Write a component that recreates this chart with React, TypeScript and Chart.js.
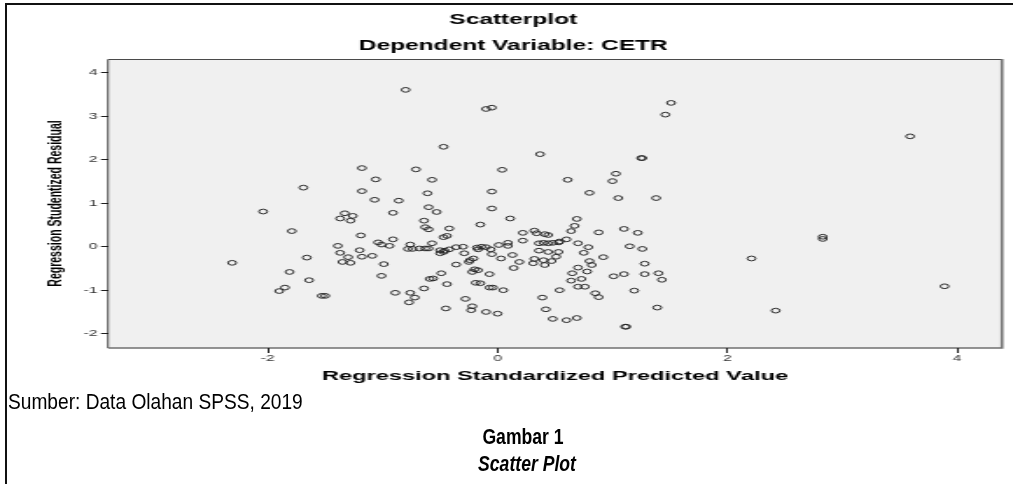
import { useEffect, useRef } from 'react';
import { Chart, registerables } from 'chart.js';

Chart.register(...registerables);

// ---- DATA ----
const chartTitle = 'Scatterplot';
const chartSubtitle = 'Dependent Variable: CETR';
const xAxisTitle = 'Regression Standardized Predicted Value';
const yAxisTitle = 'Regression Studentized Residual';
const xTickValues = [-2, 0, 2, 4];
const yTickValues = [-2, -1, 0, 1, 2, 3, 4];
const xRange = [-3.39, 4.39];
const yRange = [-2.33, 4.32];

// [standardized predicted value, studentized residual]
const leftPoints: number[][] = [
  [-2.31, -0.37], [-2.04, 0.81], [-1.79, 0.36], [-1.66, -0.25], [-1.81, -0.58],
  [-1.64, -0.77], [-1.85, -0.94], [-1.9, -1.02], [-1.53, -1.13], [-1.5, -1.13],
  [-1.69, 1.36], [-1.39, 0.02], [-1.37, -0.14], [-1.3, -0.24], [-1.35, -0.35],
  [-1.28, -0.37], [-1.33, 0.77], [-1.26, 0.71], [-1.37, 0.65], [-1.28, 0.6],
  [-1.19, 0.26], [-1.2, -0.08], [-1.18, -0.23], [-1.09, -0.21],
];
const upperPoints: number[][] = [
  [-0.8, 3.61], [-0.1, 3.17], [-0.05, 3.2], [1.51, 3.31], [1.46, 3.04],
  [-0.47, 2.3], [0.37, 2.13], [1.25, 2.04], [1.26, 2.04], [-1.18, 1.81],
  [-0.71, 1.78], [0.04, 1.77], [-1.06, 1.55], [-0.57, 1.54], [0.61, 1.54],
  [1.03, 1.68], [1.0, 1.51], [-1.18, 1.28], [-0.61, 1.23], [-0.05, 1.27],
  [0.8, 1.24], [-1.07, 1.08], [-0.86, 1.06], [1.05, 1.12], [1.38, 1.12],
  [-0.6, 0.91], [-0.05, 0.88],
];
const rightPoints: number[][] = [
  [3.59, 2.54], [2.83, 0.23], [2.83, 0.18], [2.21, -0.27], [3.89, -0.91],
  [2.42, -1.47], [1.43, -0.76], [1.4, -0.61], [1.39, -1.4], [1.28, -0.63],
  [1.28, -0.39], [1.26, -0.05], [1.15, 0.01], [1.22, 0.32], [1.1, 0.41],
  [1.1, -0.63], [1.01, -0.68], [1.19, -1.01], [1.11, -1.84], [1.12, -1.84],
];
const centerUpperPoints: number[][] = [
  [-0.91, 0.78], [-0.53, 0.8], [0.11, 0.65], [-0.64, 0.6], [-0.15, 0.51],
  [0.69, 0.64], [0.67, 0.48], [0.64, 0.36], [0.88, 0.33], [-0.63, 0.45],
  [-0.6, 0.4], [-0.42, 0.42], [-0.91, 0.17], [-0.47, 0.22], [-0.44, 0.25],
  [0.22, 0.32], [0.32, 0.37], [0.34, 0.31], [0.41, 0.29], [0.44, 0.27],
  [0.22, 0.14], [0.6, 0.17], [0.53, 0.1], [0.7, 0.08], [0.36, 0.08],
  [0.4, 0.09], [0.44, 0.08], [0.48, 0.09], [0.54, 0.12], [0.09, 0.09],
  [0.09, 0.02], [0.01, 0.04], [-0.57, 0.08], [-0.76, 0.05], [-1.04, 0.1],
  [-1.01, 0.05], [-0.94, 0.02],
];
const centerLowerPoints: number[][] = [
  [0.79, -0.01], [0.92, -0.24], [0.75, -0.14], [0.8, -0.33], [0.82, -0.42],
  [0.7, -0.48], [0.65, -0.61], [0.78, -0.57], [0.73, -0.74], [0.64, -0.78],
  [0.7, -0.92], [0.76, -0.92], [0.85, -1.07], [0.88, -1.16], [0.54, -1.0],
  [0.39, -1.17], [0.42, -1.44], [0.48, -1.66], [0.6, -1.69], [0.69, -1.64],
  [0.36, -0.09], [0.44, -0.12], [0.53, -0.12], [0.51, -0.23], [0.47, -0.33],
  [0.4, -0.31], [0.32, -0.28], [0.31, -0.38], [0.41, -0.42], [0.13, -0.19],
  [0.19, -0.35], [0.14, -0.49], [0.03, -0.27], [-0.05, -0.17], [-0.06, -0.06],
  [-0.1, -0.01], [-0.14, 0.0], [-0.18, -0.02], [-0.17, -0.06], [-0.3, 0.0],
  [-0.29, -0.15], [-0.36, -0.01], [-0.42, -0.06], [-0.46, -0.09], [-0.5, -0.08],
  [-0.5, -0.15], [-0.47, -0.12], [-0.6, -0.04], [-0.63, -0.04], [-0.68, -0.04],
  [-0.78, -0.05], [-0.74, -0.05], [-0.99, -0.4], [-1.01, -0.67], [-0.36, -0.41],
  [-0.24, -0.31], [-0.21, -0.27], [-0.25, -0.35], [-0.2, -0.52], [-0.17, -0.54],
  [-0.22, -0.58], [-0.07, -0.63], [-0.49, -0.61], [-0.59, -0.74], [-0.56, -0.73],
  [-0.44, -0.86], [-0.19, -0.83], [-0.15, -0.84], [-0.07, -0.94], [-0.04, -0.94],
  [0.05, -1.0], [-0.64, -0.96], [-0.89, -1.06], [-0.76, -1.06], [-0.72, -1.17],
  [-0.77, -1.28], [-0.28, -1.2], [-0.22, -1.37], [-0.23, -1.46], [-0.1, -1.5],
  [0.0, -1.54], [-0.45, -1.42],
];

const captionSource = 'Sumber: Data Olahan SPSS, 2019';
const captionFigure = 'Gambar 1';
const captionName = 'Scatter Plot';

// ---- LAYOUT ----
const PAGE_W = 1013;
const CANVAS_W = 579; // drawn narrow, then stretched like the original picture
const CANVAS_H = 390;
const S = PAGE_W / CANVAS_W;
const FONT = "'Liberation Sans', Arial, Helvetica, sans-serif";

const plotFrame = {
  id: 'plotFrame',
  beforeDraw(chart: any) {
    const { ctx, chartArea } = chart;
    const { left, top, right, bottom } = chartArea;
    ctx.save();
    ctx.fillStyle = '#f0f0f0';
    ctx.fillRect(left, top, right - left, bottom - top);
    ctx.lineWidth = 1;
    ctx.strokeStyle = '#4a4a4a';
    ctx.beginPath();
    ctx.moveTo(left, bottom);
    ctx.lineTo(left, top + 0.5);
    ctx.lineTo(right, top + 0.5);
    ctx.stroke();
    ctx.lineWidth = 1.6;
    ctx.strokeStyle = '#707070';
    ctx.beginPath();
    ctx.moveTo(right, top);
    ctx.lineTo(right, bottom);
    ctx.lineTo(left, bottom);
    ctx.stroke();
    ctx.restore();
  },
};

export default function App() {
  const ref = useRef<HTMLCanvasElement>(null);

  useEffect(() => {
    const canvas = ref.current;
    if (!canvas) return;
    const allPoints = [
      ...leftPoints,
      ...upperPoints,
      ...rightPoints,
      ...centerUpperPoints,
      ...centerLowerPoints,
    ].map(([x, y]) => ({ x, y }));

    const leftPad = 14;
    const chart = new Chart(canvas, {
      type: 'scatter',
      data: {
        datasets: [
          {
            data: allPoints,
            pointRadius: 2.35,
            pointBorderWidth: 0.95,
            pointBorderColor: '#222',
            pointBackgroundColor: 'rgba(0,0,0,0)',
            pointHoverRadius: 2.35,
          },
        ],
      },
      options: {
        responsive: false,
        animation: false,
        events: [],
        layout: { padding: { left: leftPad, right: CANVAS_W - 1002 / S, top: 0, bottom: 0 } },
        plugins: {
          legend: { display: false },
          tooltip: { enabled: false },
          title: {
            display: true,
            text: chartTitle,
            color: '#000',
            font: { family: FONT, size: 14, weight: 'bold' },
            padding: { top: 11.6, bottom: 0 },
          },
          subtitle: {
            display: true,
            text: chartSubtitle,
            color: '#000',
            font: { family: FONT, size: 14, weight: 'bold' },
            padding: { top: 9.2, bottom: 4.6 },
          },
        },
        scales: {
          x: {
            type: 'linear',
            min: xRange[0],
            max: xRange[1],
            afterBuildTicks: (scale: any) => {
              scale.ticks = xTickValues.map((v) => ({ value: v }));
            },
            afterFit: (scale: any) => {
              scale.height = CANVAS_H - 348;
            },
            border: { display: false },
            grid: {
              drawOnChartArea: false,
              drawTicks: true,
              tickLength: 5,
              color: '#1e1e1e',
              lineWidth: 1,
            },
            ticks: {
              padding: 0.5,
              color: '#333',
              font: { family: FONT, size: 9 },
              callback: (v: any) => String(v),
            },
            title: {
              display: true,
              text: xAxisTitle,
              color: '#000',
              font: { family: FONT, size: 13.5, weight: 'bold' },
              padding: { top: 0, bottom: 5.9 },
            },
          },
          y: {
            type: 'linear',
            min: yRange[0],
            max: yRange[1],
            afterBuildTicks: (scale: any) => {
              scale.ticks = yTickValues.map((v) => ({ value: v }));
            },
            afterFit: (scale: any) => {
              scale.width = 108 / S - leftPad;
            },
            border: { display: false },
            grid: {
              drawOnChartArea: false,
              drawTicks: true,
              tickLength: 4,
              color: '#1e1e1e',
              lineWidth: 1,
            },
            ticks: {
              padding: 2,
              color: '#333',
              font: { family: FONT, size: 9 },
              callback: (v: any) => String(v),
            },
            title: {
              display: true,
              text: yAxisTitle,
              color: '#000',
              font: { family: FONT, size: 10.5, weight: 'bold' },
              padding: { top: 12.3, bottom: 0 },
            },
          },
        },
      },
      plugins: [plotFrame],
    } as any);

    return () => chart.destroy();
  }, []);

  const narrow = "'Liberation Sans', Arial, sans-serif";

  return (
    <div
      style={{
        position: 'absolute',
        left: 0,
        top: 0,
        width: PAGE_W,
        height: 484,
        background: '#fff',
        overflow: 'hidden',
      }}
    >
      <canvas
        ref={ref}
        width={CANVAS_W}
        height={CANVAS_H}
        style={{ position: 'absolute', left: 0, top: 0, width: PAGE_W + 'px', height: CANVAS_H + 'px' }}
      />
      <div
        style={{
          position: 'absolute',
          left: 5,
          top: 3,
          width: PAGE_W,
          height: 484,
          borderTop: '2px solid #111',
          borderLeft: '2px solid #111',
          boxSizing: 'border-box',
          pointerEvents: 'none',
        }}
      />
      <div
        style={{
          position: 'absolute',
          left: 8,
          top: 391,
          fontFamily: narrow,
          fontSize: 22,
          lineHeight: '22px',
          color: '#000',
          whiteSpace: 'nowrap',
          transform: 'scaleX(0.87)',
          transformOrigin: 'left center',
        }}
      >
        {captionSource}
      </div>
      <div
        style={{
          position: 'absolute',
          left: 523,
          top: 426,
          fontFamily: narrow,
          fontSize: 22,
          lineHeight: '22px',
          fontWeight: 'bold',
          color: '#000',
          whiteSpace: 'nowrap',
          transform: 'translateX(-50%) scaleX(0.8)',
        }}
      >
        {captionFigure}
      </div>
      <div
        style={{
          position: 'absolute',
          left: 527,
          top: 453,
          fontFamily: narrow,
          fontSize: 22,
          lineHeight: '22px',
          fontWeight: 'bold',
          fontStyle: 'italic',
          color: '#000',
          whiteSpace: 'nowrap',
          transform: 'translateX(-50%) scaleX(0.8)',
        }}
      >
        {captionName}
      </div>
    </div>
  );
}
